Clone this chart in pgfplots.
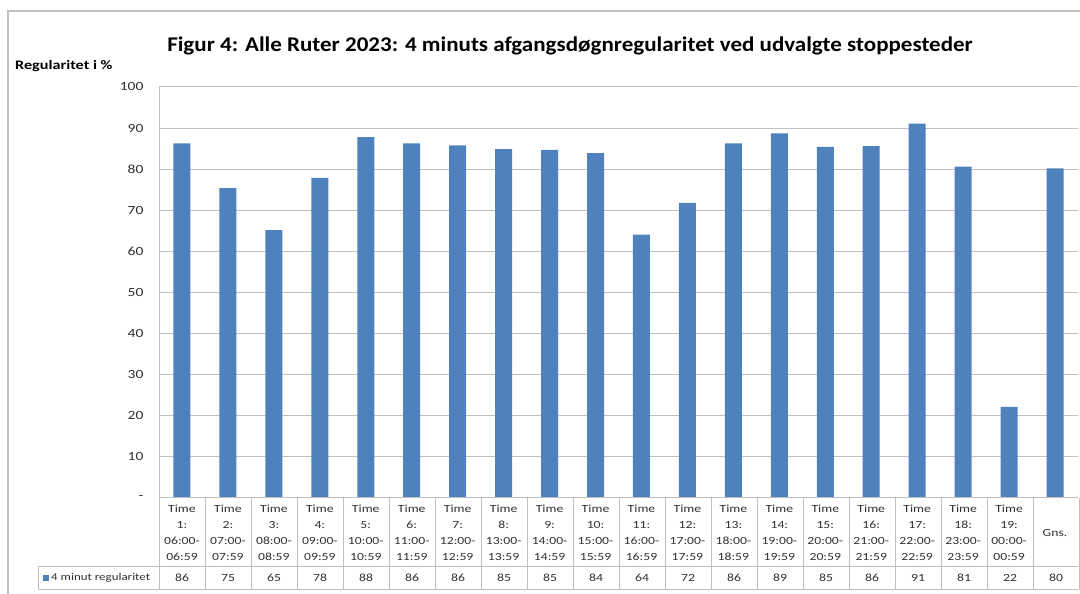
\documentclass[border=0pt]{standalone}
\usepackage{pgfplots}
\pgfplotsset{compat=1.18}
\usepackage{pgfplotstable}
\usepackage{fontspec}
\setmainfont{Carlito}
\newfontfamily\widefont{Carlito}[FakeStretch=1.25]
\newfontfamily\titlefont{Carlito}[FakeStretch=1.1]
\definecolor{barblue}{HTML}{4F81BD}
\definecolor{gridgray}{HTML}{BFBFBF}
\definecolor{txtgray}{HTML}{303030}
\pgfplotstableread{
x y
0 86.3
1 75.4
2 65.2
3 77.9
4 87.8
5 86.3
6 85.8
7 84.9
8 84.7
9 83.9
10 64.1
11 71.8
12 86.3
13 88.7
14 85.4
15 85.6
16 91.1
17 80.6
18 22.2
19 80.2
}\datatable
\begin{document}
\begin{tikzpicture}
\begin{scope}[x=1bp,y=1bp]
\path[use as bounding box] (0,0) rectangle (1080,594);
\draw[gridgray, line width=1.2bp] (8,0) -- (8,583) -- (1080,583);
\node[font=\titlefont\bfseries\fontsize{21}{24}\selectfont, text=black] at (570,548) {Figur 4: Alle Ruter 2023: 4 minuts afgangsdøgnregularitet ved udvalgte stoppesteder};
\node[anchor=west, font=\widefont\bfseries\fontsize{13}{14}\selectfont, inner sep=0pt, text=black] at (15,528) {Regularitet i \%};
\end{scope}
\begin{axis}[at={(159bp,96bp)}, anchor=south west, scale only axis,
  width=919bp, height=411bp,
  xmin=-0.5, xmax=19.5, ymin=0, ymax=100,
  ybar, bar width=17bp,
  axis y line*=left, axis x line*=bottom,
  axis line style={gridgray, line width=1bp},
  ymajorgrids, grid style={gridgray, line width=1bp},
  major tick length=0pt,
  ytick={0,10,...,100},
  yticklabels={-,10,20,30,40,50,60,70,80,90,100},
  yticklabel style={font=\widefont\fontsize{12.5}{13}\selectfont, text=txtgray, xshift=-12bp},
  /pgf/number format/assume math mode=true,
  xtick={0,...,19},
  xticklabels={{Time\\1:\\06:00-\\06:59},{Time\\2:\\07:00-\\07:59},{Time\\3:\\08:00-\\08:59},{Time\\4:\\09:00-\\09:59},{Time\\5:\\10:00-\\10:59},{Time\\6:\\11:00-\\11:59},{Time\\7:\\12:00-\\12:59},{Time\\8:\\13:00-\\13:59},{Time\\9:\\14:00-\\14:59},{Time\\10:\\15:00-\\15:59},{Time\\11:\\16:00-\\16:59},{Time\\12:\\17:00-\\17:59},{Time\\13:\\18:00-\\18:59},{Time\\14:\\19:00-\\19:59},{Time\\15:\\20:00-\\20:59},{Time\\16:\\21:00-\\21:59},{Time\\17:\\22:00-\\22:59},{Time\\18:\\23:00-\\23:59},{Time\\19:\\00:00-\\00:59},{Gns.}},
  xticklabel style={align=center, anchor=center, yshift=-35bp, font=\widefont\fontsize{11}{16}\selectfont, text=txtgray},
  clip=false,
]
\addplot[fill=barblue, draw=none] table[x=x, y=y] {\datatable};
\end{axis}
\begin{scope}[x=1bp,y=1bp]
\draw[gridgray, line width=1bp] (159,96) -- (1078,96);
\draw[gridgray, line width=1bp] (38,27) -- (1078,27);
\draw[gridgray, line width=1bp] (38,4) -- (1078,4);
\draw[gridgray, line width=1bp] (38,27) -- (38,4);
\foreach \k in {0,...,20} \draw[gridgray, line width=1bp] ({159+46*\k},96) -- ({159+46*\k},4);
\foreach \v [count=\i from 0] in {86,75,65,78,88,86,86,85,85,84,64,72,86,89,85,86,91,81,22,80}
  \node[font=\widefont\fontsize{11}{13}\selectfont, text=txtgray] at ({182+46*\i},16) {\v};
\fill[barblue] (43,12.5) rectangle (49,18.5);
\node[anchor=west, font=\widefont\fontsize{10.4}{13}\selectfont, text=txtgray, inner sep=0pt] at (51,16) {4 minut regularitet};
\end{scope}
\end{tikzpicture}
\end{document}
